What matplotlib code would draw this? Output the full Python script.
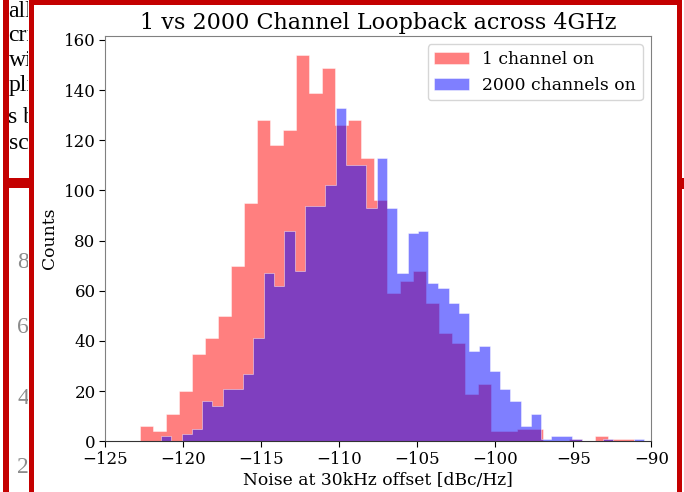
import numpy as np
import matplotlib
matplotlib.use('Agg')
import matplotlib.pyplot as plt
from matplotlib.patches import Rectangle

plt.rcParams.update({'font.family': 'DejaVu Serif',
                     'xtick.labelsize': 12,
                     'ytick.labelsize': 12,
                     'axes.labelsize': 12.3,
                     'legend.fontsize': 12.3})

# counts per bin
one_on = [6, 4, 11, 20, 35, 41, 50, 70, 95, 128,
          118, 124, 154, 139, 149, 126, 128, 113, 96, 59,
          64, 68, 55, 43, 39, 19, 23, 4, 4, 5,
          5, 0, 0, 1, 0, 2, 1, 1]
one_on_range = (-122.78, -91.11)

all_on = [2, 0, 3, 5, 16, 14, 21, 21, 27, 41,
          67, 62, 84, 68, 94, 94, 102, 133, 110, 110,
          93, 113, 93, 67, 83, 84, 63, 61, 55, 51,
          36, 38, 28, 21, 16, 6, 11, 1, 2, 2,
          1, 0, 0, 1, 0, 0, 1]
all_on_range = (-121.43, -90.48)

W, H = 684, 492
fig = plt.figure(figsize=(W / 100, H / 100), dpi=100)

def px(x, y):
  return x / W, 1 - y / H

# bits of the page behind the screenshot
side_text = ["all", "cri", "wi", "pli", "s b", "sca"]
side_y = [16.7, 40.7, 65.7, 90.7, 122.7, 149]
for s, yy in zip(side_text, side_y):
  fig.text(*px(8.5, yy), s, family='Liberation Serif', fontsize=17,
           va='baseline', ha='left', zorder=-3)

side_digits = ["8", "6", "4", "2"]
digit_y = [268, 333, 404, 473]
for s, yy in zip(side_digits, digit_y):
  fig.text(*px(17, yy), s, family='Liberation Serif', fontsize=17,
           color='0.55', va='baseline', ha='left', zorder=-3)

# white screenshot area
fig.patches.append(Rectangle(px(28, H), (W - 28) / W, 1, transform=fig.transFigure,
                             facecolor='white', edgecolor='none', zorder=-1))

ax = fig.add_axes([105.3 / W, 1 - 441.3 / H, 546 / W, 405.6 / H])

for counts, rng, color, label in [(one_on, one_on_range, 'red', '1 channel on'),
                                  (all_on, all_on_range, 'blue', '2000 channels on')]:
  edges = np.histogram_bin_edges([], bins=len(counts), range=rng)
  centers = 0.5 * (edges[:-1] + edges[1:])
  ax.hist(centers, bins=edges, weights=counts, histtype='stepfilled',
          color=color, alpha=0.5, edgecolor='white', linewidth=0.6, label=label)

ax.set_xlim(-125, -90)
ax.set_xlabel('Noise at 30kHz offset [dBc/Hz]', labelpad=3)
ax.set_ylabel('Counts')
ax.set_title('1 vs 2000 Channel Loopback across 4GHz', fontsize=16, pad=5)
ax.legend(loc='upper right')
for sp in ['left', 'top', 'right']:
  ax.spines[sp].set_color('0.5')
ax.spines['bottom'].set_color('0.2')
ax.tick_params(length=4.5, pad=2.5)

# red highlight frames
red = '#c40000'
frames = [(28.5, 0, 5.5, H), (28.5, 0, 653.5, 4.5), (676.5, 0, 5.5, H),
          (3, 0, 6, H), (3, 178, 31, 10), (680, 178, 4, 11)]
for x0, y0, w, h in frames:
  fig.patches.append(Rectangle(px(x0, y0 + h), w / W, h / H, transform=fig.transFigure,
                               facecolor=red, edgecolor='none', zorder=5))

fig.savefig('out.png', dpi=100)
